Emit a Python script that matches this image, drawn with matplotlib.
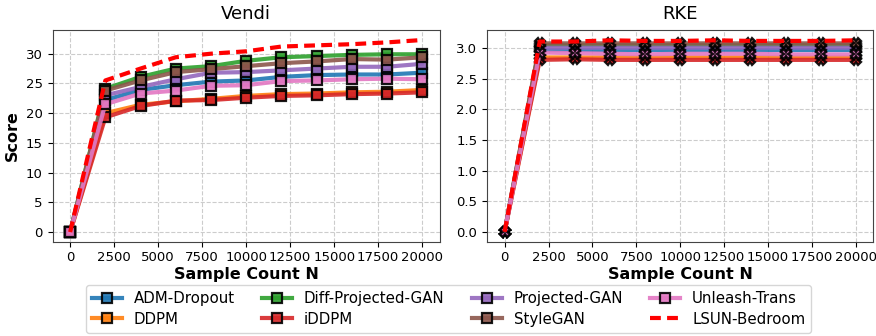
import matplotlib
matplotlib.use("Agg")
import matplotlib.pyplot as plt

sample_counts = [0, 2000, 4000, 6000, 8000, 10000, 12000, 14000, 16000, 18000, 20000]

models = ["ADM-Dropout", "DDPM", "Diff-Projected-GAN", "iDDPM",
          "Projected-GAN", "StyleGAN", "Unleash-Trans"]
colors = ["#1f77b4", "#ff7f0e", "#2ca02c", "#d62728",
          "#9467bd", "#8c564b", "#e377c2"]

vendi_adm = [0, 22.2, 23.9, 24.7, 25.3, 25.5, 26.1, 26.4, 26.5, 26.5, 26.8]
vendi_ddpm = [0, 20.0, 21.4, 22.0, 22.4, 22.9, 23.2, 23.3, 23.5, 23.6, 23.9]
vendi_diffpgan = [0, 24.1, 26.1, 27.5, 27.9, 28.8, 29.4, 29.6, 29.8, 29.9, 29.9]
vendi_iddpm = [0, 19.3, 21.2, 22.1, 22.2, 22.6, 22.9, 23.0, 23.2, 23.3, 23.5]
vendi_pgan = [0, 23.0, 24.4, 25.7, 26.8, 26.9, 27.2, 27.5, 27.8, 27.8, 28.3]
vendi_stylegan = [0, 23.8, 25.5, 26.9, 27.4, 27.9, 28.4, 28.7, 29.1, 29.0, 29.4]
vendi_unleash = [0, 21.5, 23.3, 23.8, 24.6, 24.7, 25.4, 25.5, 25.7, 25.8, 25.7]
vendi_lsun = [0, 25.5, 27.5, 29.4, 30.0, 30.4, 31.2, 31.4, 31.6, 31.9, 32.3]

rke_adm = [0, 2.97, 2.97, 2.97, 2.97, 2.97, 2.97, 2.97, 2.97, 2.97, 2.97]
rke_ddpm = [0, 2.85, 2.85, 2.85, 2.85, 2.85, 2.85, 2.85, 2.85, 2.85, 2.85]
rke_diffpgan = [0, 3.05, 3.05, 3.05, 3.05, 3.05, 3.05, 3.05, 3.05, 3.05, 3.05]
rke_iddpm = [0, 2.81, 2.82, 2.81, 2.81, 2.81, 2.81, 2.81, 2.81, 2.81, 2.81]
rke_pgan = [0, 3.01, 3.01, 3.01, 3.01, 3.01, 3.01, 3.01, 3.01, 3.01, 3.01]
rke_stylegan = [0, 3.08, 3.08, 3.08, 3.08, 3.08, 3.08, 3.08, 3.08, 3.08, 3.08]
rke_unleash = [0, 2.93, 2.92, 2.91, 2.90, 2.91, 2.91, 2.91, 2.90, 2.90, 2.90]
rke_lsun = [0, 3.11, 3.11, 3.13, 3.12, 3.12, 3.13, 3.12, 3.12, 3.12, 3.13]

vendi_series = [vendi_adm, vendi_ddpm, vendi_diffpgan, vendi_iddpm,
                vendi_pgan, vendi_stylegan, vendi_unleash]
rke_series = [rke_adm, rke_ddpm, rke_diffpgan, rke_iddpm,
              rke_pgan, rke_stylegan, rke_unleash]

fig = plt.figure(figsize=(8.76, 3.36), dpi=100)
ax1 = fig.add_axes([0.060, 0.281, 0.442, 0.630])
ax2 = fig.add_axes([0.556, 0.281, 0.441, 0.630])


def draw(ax, series, ref, marker, msize, title, yticks, ylabel=None):
    for name, col, vals in zip(models, colors, series):
        ax.plot(sample_counts, vals, color=col, lw=3, alpha=0.9,
                marker=marker, markersize=msize, markerfacecolor=col,
                markeredgecolor="black", markeredgewidth=1.6, label=name)
    ax.plot(sample_counts, ref, color="red", lw=3, ls=(0, (2.6, 1.5)),
            label="LSUN-Bedroom")
    ax.set_title(title, fontsize=13, pad=8)
    ax.set_xlabel("Sample Count N", fontsize=11.5, fontweight="bold",
                  labelpad=2)
    if ylabel:
        ax.set_ylabel(ylabel, fontsize=11.5, fontweight="bold")
    ax.set_xticks([0, 2500, 5000, 7500, 10000, 12500, 15000, 17500, 20000])
    ax.set_yticks(yticks)
    ax.tick_params(labelsize=9.5)
    ax.grid(True, ls="--", color="#cccccc", lw=0.8)
    for s in ax.spines.values():
        s.set_color("#444444")


draw(ax1, vendi_series, vendi_lsun, "s", 7.5, "Vendi",
     [0, 5, 10, 15, 20, 25, 30], ylabel="Score")
ax1.set_xlim(-1000, 21000)
ax1.set_ylim(-1.6, 34.0)

draw(ax2, rke_series, rke_lsun, "X", 7, "RKE",
     [0.0, 0.5, 1.0, 1.5, 2.0, 2.5, 3.0])
ax2.set_yticklabels(["0.0", "0.5", "1.0", "1.5", "2.0", "2.5", "3.0"])
ax2.set_xlim(-1000, 21000)
ax2.set_ylim(-0.16, 3.3)

handles, labels = ax1.get_legend_handles_labels()
fig.legend(handles, labels, loc="lower center", ncol=4, fontsize=10.8,
           bbox_to_anchor=(0.512, -0.012), frameon=True,
           columnspacing=1.8, handlelength=2.0, labelspacing=0.35)

fig.savefig("out.png", dpi=100)
